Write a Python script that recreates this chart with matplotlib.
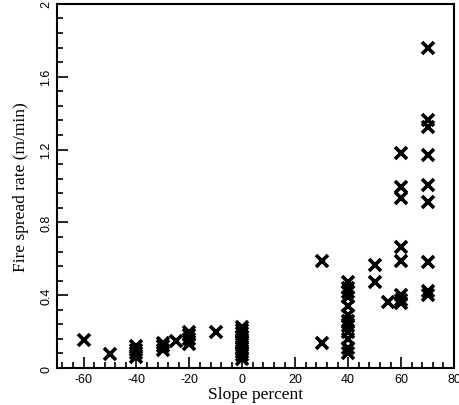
import matplotlib
matplotlib.use("Agg")
import matplotlib.pyplot as plt
from matplotlib.ticker import MultipleLocator, FuncFormatter

# slope percent and spread rate
slope = [
    -60, -50,
    -40, -40, -40, -40,
    -30, -30, -30, -25,
    -20, -20, -20, -20, -10,
    0, 0, 0, 0, 0, 0, 0, 0, 0, 0,
    30, 30,
    40, 40, 40, 40, 40, 40, 40, 40, 40, 40, 40, 40,
    50, 50, 55,
    60, 60, 60, 60, 60, 60, 60, 60,
    70, 70, 70, 70, 70, 70, 70, 70, 70,
]
rate = [
    0.155, 0.075,
    0.06, 0.08, 0.10, 0.12,
    0.10, 0.12, 0.14, 0.15,
    0.13, 0.16, 0.18, 0.20, 0.20,
    0.05, 0.07, 0.09, 0.11, 0.13, 0.15, 0.17, 0.19, 0.21, 0.225,
    0.59, 0.14,
    0.08, 0.11, 0.16, 0.20, 0.23, 0.26, 0.29, 0.34, 0.39, 0.42, 0.44, 0.47,
    0.565, 0.475, 0.365,
    1.18, 0.995, 0.935, 0.665, 0.59, 0.40, 0.375, 0.36,
    1.755, 1.36, 1.325, 1.17, 1.005, 0.91, 0.58, 0.425, 0.40,
]

plt.rcParams["axes.unicode_minus"] = False

fig = plt.figure(figsize=(4.6, 4.06), dpi=100)
ax = fig.add_axes([0.124, 0.091, 0.863, 0.897])

ax.plot(slope, rate, linestyle="none", marker="x", markersize=8,
        markeredgewidth=2.6, color="black")

ax.set_xlim(-70, 80)
ax.set_ylim(0, 2)
ax.xaxis.set_major_locator(MultipleLocator(20))
ax.xaxis.set_minor_locator(MultipleLocator(4))
ax.yaxis.set_major_locator(MultipleLocator(0.4))
ax.yaxis.set_minor_locator(MultipleLocator(0.08))
ax.yaxis.set_major_formatter(FuncFormatter(lambda v, p: f"{v:g}"))
ax.tick_params(which="both", direction="in", top=False, right=False,
               width=1.2, labelsize=9)
ax.tick_params(which="major", length=8)
ax.tick_params(which="minor", length=4)
for lab in ax.get_xticklabels() + ax.get_yticklabels():
    lab.set_family("Liberation Sans")
for lab in ax.get_yticklabels():
    lab.set_rotation(90)
    lab.set_va("center")
for sp in ax.spines.values():
    sp.set_linewidth(1.5)

ax.set_xlabel("Slope percent", family="Liberation Serif", fontsize=12.5, labelpad=1)
ax.set_ylabel("Fire spread rate (m/min)", family="Liberation Serif", fontsize=12.5, labelpad=8)

fig.savefig("out.png", dpi=100)
